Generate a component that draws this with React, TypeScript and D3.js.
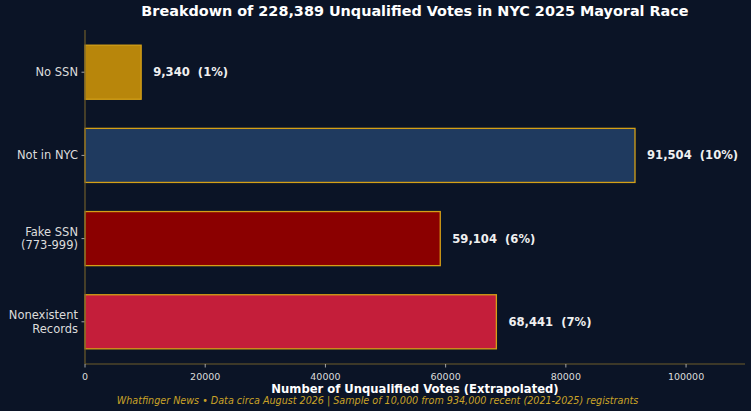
import { useEffect, useRef } from "react"
import * as d3 from "d3"

const categories = ["No SSN", "Not in NYC", "Fake SSN\n(773-999)", "Nonexistent\nRecords"]
const votes = [9340, 91504, 59104, 68441]
const percents = [1, 10, 6, 7]
const barColors = ["#b8860b", "#1f3a5f", "#8b0000", "#c41e3a"]
const xTicks = [0, 20000, 40000, 60000, 80000, 100000]

const W = 751
const H = 411
const bg = "#0b1426"
const gold = "#d4a017"
const spine = "#6e5c2a"

export default function App() {
  const svgRef = useRef<SVGSVGElement>(null)

  useEffect(() => {
    if (!svgRef.current) return
    const svg = d3.select(svgRef.current)
    svg.selectAll("*").remove()

    const margin = { top: 30, right: 6, bottom: 47, left: 85 }
    const width = W - margin.left - margin.right
    const height = H - margin.top - margin.bottom

    svg.append("rect").attr("width", W).attr("height", H).attr("fill", bg)

    const g = svg.append("g").attr("transform", `translate(${margin.left},${margin.top})`)

    const xMax = d3.max(votes)! * 1.2
    const x = d3.scaleLinear().domain([0, xMax]).range([0, width])

    // bar positions 0..n-1, height 0.65, 5% margins like matplotlib
    const n = categories.length
    const barH = 0.65
    const lo = -barH / 2
    const hi = n - 1 + barH / 2
    const pad = (hi - lo) * 0.05
    const y = d3.scaleLinear().domain([lo - pad, hi + pad]).range([0, height])

    categories.forEach((c, i) => {
      const y0 = y(i - barH / 2)
      const y1 = y(i + barH / 2)
      g.append("rect")
        .attr("x", x(0))
        .attr("y", y0)
        .attr("width", x(votes[i]) - x(0))
        .attr("height", y1 - y0)
        .attr("fill", barColors[i])
        .attr("stroke", gold)
        .attr("stroke-width", 1.3)

      g.append("text")
        .attr("x", x(votes[i]) + 12)
        .attr("y", y(i))
        .attr("dominant-baseline", "central")
        .attr("fill", "#f0f0f0")
        .attr("font-size", "11.6px")
        .attr("font-weight", "700")
        .style("white-space", "pre")
        .text(`${d3.format(",")(votes[i])}  (${percents[i]}%)`)

      // y tick + label
      g.append("line")
        .attr("x1", -3.5).attr("x2", 0)
        .attr("y1", y(i)).attr("y2", y(i))
        .attr("stroke", "#c8c8c8").attr("stroke-width", 0.8)

      const lines = c.split("\n")
      const t = g.append("text")
        .attr("x", -7)
        .attr("y", y(i))
        .attr("text-anchor", "end")
        .attr("fill", "#dcdcdc")
        .attr("font-size", "11.5px")
      lines.forEach((l, k) => {
        t.append("tspan")
          .attr("x", -7)
          .attr("y", y(i) + (k - (lines.length - 1) / 2) * 13.5)
          .attr("dominant-baseline", "central")
          .text(l)
      })
    })

    // spines
    g.append("line").attr("x1", 0).attr("x2", 0).attr("y1", 0).attr("y2", height)
      .attr("stroke", spine).attr("stroke-width", 1.2)
    g.append("line").attr("x1", 0).attr("x2", width).attr("y1", height).attr("y2", height)
      .attr("stroke", spine).attr("stroke-width", 1.2)

    // x ticks
    xTicks.forEach((v) => {
      g.append("line")
        .attr("x1", x(v)).attr("x2", x(v))
        .attr("y1", height).attr("y2", height + 3.5)
        .attr("stroke", "#c8c8c8").attr("stroke-width", 0.8)
      g.append("text")
        .attr("x", x(v))
        .attr("y", height + 12)
        .attr("text-anchor", "middle")
        .attr("dominant-baseline", "central")
        .attr("fill", "#dcdcdc")
        .attr("font-size", "9.5px")
        .text(String(v))
    })

    // x label
    g.append("text")
      .attr("x", width / 2)
      .attr("y", height + 24.5)
      .attr("text-anchor", "middle")
      .attr("dominant-baseline", "central")
      .attr("fill", "#ffffff")
      .attr("font-size", "11.6px")
      .attr("font-weight", "700")
      .text("Number of Unqualified Votes (Extrapolated)")

    // title
    svg.append("text")
      .attr("x", margin.left + width / 2)
      .attr("y", 11)
      .attr("text-anchor", "middle")
      .attr("dominant-baseline", "central")
      .attr("fill", "#ffffff")
      .attr("font-size", "14.4px")
      .attr("font-weight", "700")
      .text("Breakdown of 228,389 Unqualified Votes in NYC 2025 Mayoral Race")

    // footer
    svg.append("text")
      .attr("x", W / 2 + 2)
      .attr("y", 400)
      .attr("text-anchor", "middle")
      .attr("dominant-baseline", "central")
      .attr("fill", "#c9a227")
      .attr("font-size", "9.6px")
      .attr("font-style", "italic")
      .text("Whatfinger News • Data circa August 2026 | Sample of 10,000 from 934,000 recent (2021-2025) registrants")
  }, [])

  return (
    <div style={{ position: "fixed", left: 0, top: 0, width: W, height: H, background: bg }}>
      <svg
        ref={svgRef}
        width={W}
        height={H}
        style={{ display: "block", fontFamily: "'DejaVu Sans', sans-serif" }}
      />
    </div>
  )
}
